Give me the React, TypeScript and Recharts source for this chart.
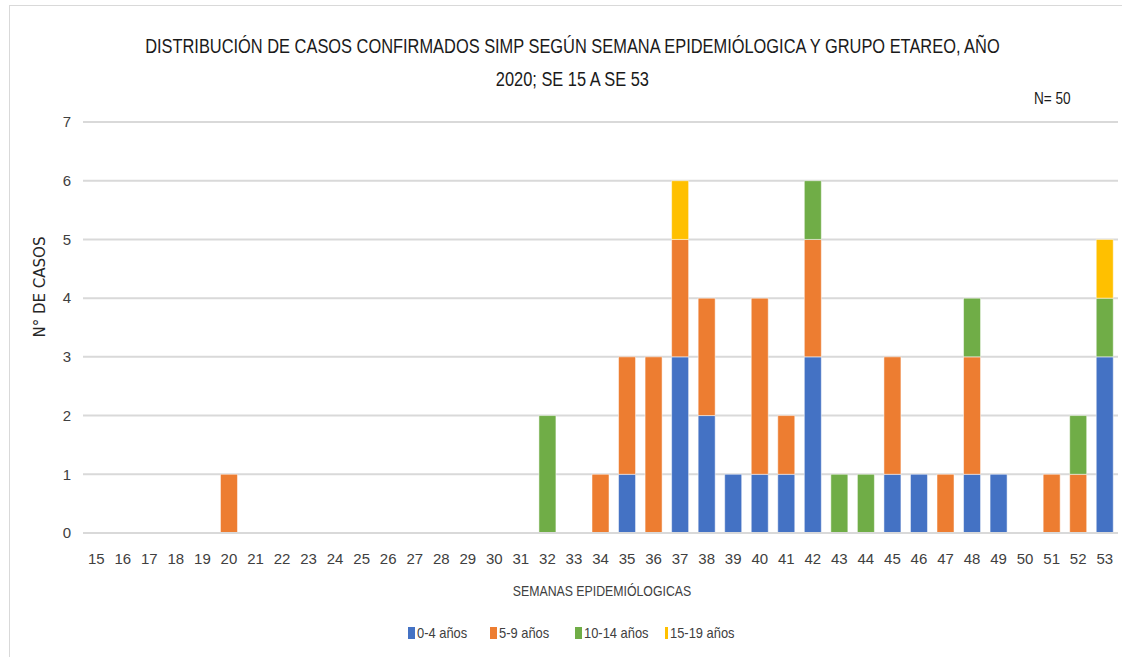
import React from 'react';
import { BarChart, Bar, XAxis, YAxis, CartesianGrid, Legend } from 'recharts';

const weeks = [15, 16, 17, 18, 19, 20, 21, 22, 23, 24, 25, 26, 27, 28, 29, 30, 31, 32, 33, 34, 35, 36, 37, 38, 39, 40, 41, 42, 43, 44, 45, 46, 47, 48, 49, 50, 51, 52, 53];
const age0to4 = [0, 0, 0, 0, 0, 0, 0, 0, 0, 0, 0, 0, 0, 0, 0, 0, 0, 0, 0, 0, 1, 0, 3, 2, 1, 1, 1, 3, 0, 0, 1, 1, 0, 1, 1, 0, 0, 0, 3];
const age5to9 = [0, 0, 0, 0, 0, 1, 0, 0, 0, 0, 0, 0, 0, 0, 0, 0, 0, 0, 0, 1, 2, 3, 2, 2, 0, 3, 1, 2, 0, 0, 2, 0, 1, 2, 0, 0, 1, 1, 0];
const age10to14 = [0, 0, 0, 0, 0, 0, 0, 0, 0, 0, 0, 0, 0, 0, 0, 0, 0, 2, 0, 0, 0, 0, 0, 0, 0, 0, 0, 1, 1, 1, 0, 0, 0, 1, 0, 0, 0, 1, 1];
const age15to19 = [0, 0, 0, 0, 0, 0, 0, 0, 0, 0, 0, 0, 0, 0, 0, 0, 0, 0, 0, 0, 0, 0, 1, 0, 0, 0, 0, 0, 0, 0, 0, 0, 0, 0, 0, 0, 0, 0, 1];
const yTicks = [0, 1, 2, 3, 4, 5, 6, 7];

const series = [
  { key: 'a', name: '0-4 años', color: '#4472C4', values: age0to4 },
  { key: 'b', name: '5-9 años', color: '#ED7D31', values: age5to9 },
  { key: 'c', name: '10-14 años', color: '#70AD47', values: age10to14 },
  { key: 'd', name: '15-19 años', color: '#FFC000', values: age15to19 },
];

const data = weeks.map((w, i) => {
  const row: Record<string, number | string> = { week: String(w) };
  series.forEach(s => { row[s.key] = s.values[i]; });
  return row;
});

const font = '"Liberation Sans", Arial, sans-serif';
const legendWidths = [82, 85, 90, 80];

const LegendContent = () => (
  <div style={{ display: 'flex', fontFamily: font, fontSize: 15, color: '#404040' }}>
    {series.map((s, i) => (
      <div key={s.key} style={{ display: 'flex', alignItems: 'center', width: legendWidths[i] }}>
        <span style={{ display: 'inline-block', width: 7, height: 12, background: s.color, marginRight: 2 }} />
        <span style={{ display: 'inline-block', transform: 'scaleX(0.86)', transformOrigin: 'left center', whiteSpace: 'nowrap' }}>{s.name}</span>
      </div>
    ))}
  </div>
);

const App: React.FC = () => (
  <div style={{ position: 'absolute', left: 0, top: 0, width: 1122, height: 657, background: '#fff', overflow: 'hidden' }}>
    <div style={{ position: 'absolute', left: 9, top: 5, width: 1120, height: 660, borderLeft: '1px solid #d9d9d9', borderTop: '1px solid #d9d9d9' }} />
    <div style={{ position: 'absolute', left: 0, top: 30, width: 1145, textAlign: 'center', fontFamily: font, fontSize: 20, color: '#1a1a1a', lineHeight: '33px', transform: 'scaleX(0.82)', transformOrigin: '572px 0' }}>
      DISTRIBUCIÓN DE CASOS CONFIRMADOS SIMP SEGÚN SEMANA EPIDEMIÓLOGICA Y GRUPO ETAREO, AÑO<br />2020; SE 15 A SE 53
    </div>
    <div style={{ position: 'absolute', left: 1034, top: 90, fontFamily: font, fontSize: 16, color: '#1a1a1a', transform: 'scaleX(0.85)', transformOrigin: 'left top' }}>N= 50</div>
    <div style={{ position: 'absolute', left: 40, top: 287, transform: 'translate(-50%, -50%) rotate(-90deg)', fontFamily: '"DejaVu Sans", sans-serif', fontSize: 15, color: '#262626', whiteSpace: 'nowrap' }}>
      N° DE CASOS
    </div>
    <div style={{ position: 'absolute', left: 0, top: 582, width: 1204, textAlign: 'center', fontFamily: font, fontSize: 15, color: '#404040', transform: 'scaleX(0.82)', transformOrigin: '602px 0' }}>
      SEMANAS EPIDEMIÓLOGICAS
    </div>
    <BarChart
      width={1122}
      height={657}
      data={data}
      margin={{ top: 122, right: 4, bottom: 22, left: 0 }}
      barCategoryGap="18%"
      style={{ position: 'absolute', left: 0, top: 0 }}
    >
      <CartesianGrid vertical={false} stroke="#d9d9d9" strokeWidth={2} />
      <XAxis
        dataKey="week"
        tickLine={false}
        axisLine={{ stroke: '#d9d9d9', strokeWidth: 2 }}
        tick={{ fontFamily: font, fontSize: 15, fill: '#404040' }}
        tickMargin={14}
        interval={0}
        height={85}
      />
      <YAxis
        domain={[0, 7]}
        ticks={yTicks}
        width={83}
        tickLine={false}
        axisLine={false}
        tickMargin={6}
        tick={{ fontFamily: font, fontSize: 15, fill: '#404040' }}
      />
      <Legend content={<LegendContent />} wrapperStyle={{ left: 408, top: 624, width: 340 }} />
      {series.map(s => (
        <Bar key={s.key} dataKey={s.key} name={s.name} stackId="s" fill={s.color} stroke="#ffffff" strokeWidth={0.5} isAnimationActive={false} />
      ))}
    </BarChart>
  </div>
);

export default App;
